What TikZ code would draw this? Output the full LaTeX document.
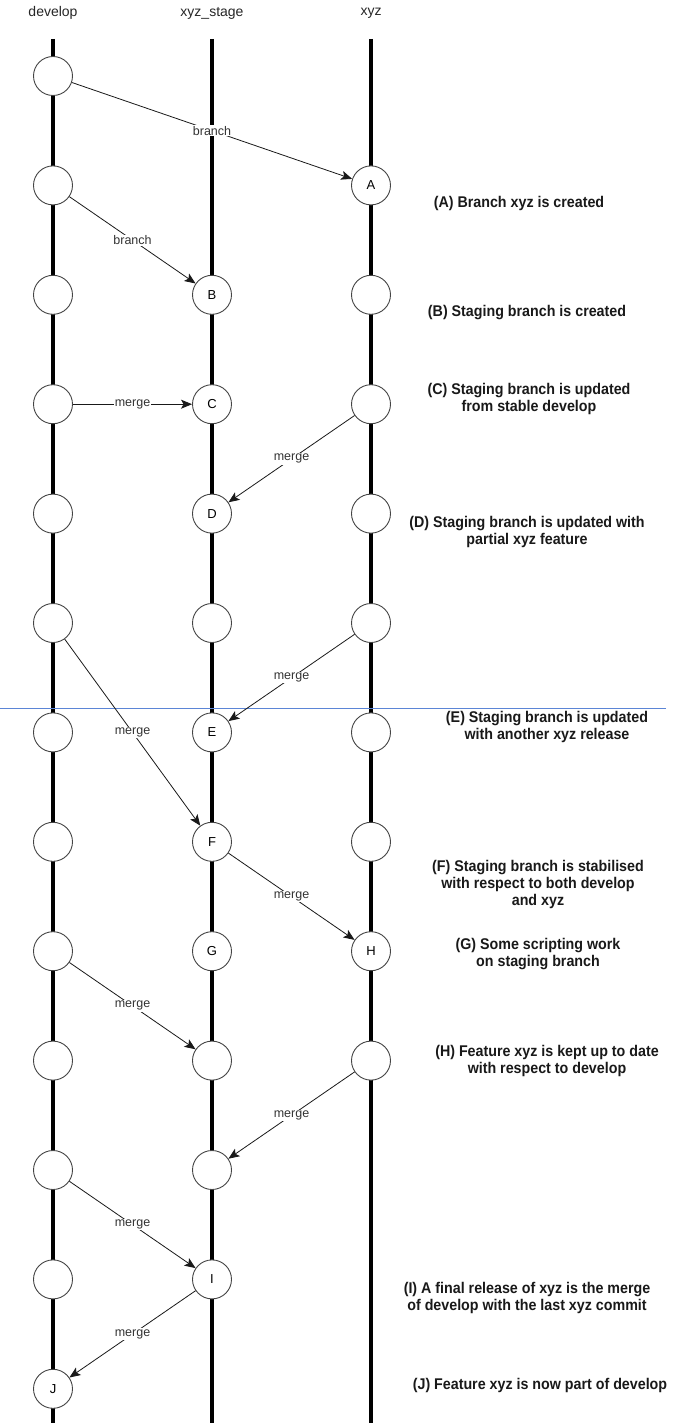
\documentclass[tikz,border=0pt]{standalone}
\usepackage{fontspec}
\setmainfont{Liberation Sans}
\newfontfamily\notefont[FakeStretch=0.92]{Liberation Sans}
\usetikzlibrary{arrows.meta}
\definecolor{rim}{HTML}{444444}
\definecolor{labelgray}{HTML}{333333}
\definecolor{pagebreak}{HTML}{5B85D6}
\begin{document}
\begin{tikzpicture}[x=1pt,y=-1pt,
  commit/.style={circle,draw=rim,line width=0.9pt,fill=white,minimum size=39pt,inner sep=0pt,
    font=\fontsize{13}{15}\selectfont},
  rail/.style={line width=4pt,black},
  flow/.style={line width=0.8pt,draw=black!90,-{Stealth[length=11pt,width=9pt,inset=2.5pt]}},
  tag/.style={midway,fill=white,inner sep=1pt,text=labelgray,font=\fontsize{12.5}{14}\selectfont},
  head/.style={font=\fontsize{14}{16}\selectfont,text=black!85},
  note/.style={align=center,font=\notefont\bfseries\fontsize{15.5}{17}\selectfont,text=black!90}]
\useasboundingbox (0,0) rectangle (679,1423);

% column x positions
\def\cd{53}\def\cs{212}\def\cx{371}

% branch rails
\coordinate (dtop) at (\cd,39); \coordinate (dbot) at (\cd,1423);
\coordinate (stop) at (\cs,39); \coordinate (sbot) at (\cs,1423);
\coordinate (xtop) at (\cx,39); \coordinate (xbot) at (\cx,1423);
\draw[rail] (dtop) -- (dbot);
\draw[rail] (stop) -- (sbot);
\draw[rail] (xtop) -- (xbot);

% page break marker
\coordinate (pbl) at (0,708); \coordinate (pbr) at (666,708);
\draw[pagebreak,line width=0.8pt] (pbl) -- (pbr);

% column headings
\node[head] (hd) at (\cd,13) {develop};
\node[head] (hs) at (\cs,13) {xyz\_stage};
\node[head] (hx) at (\cx,13) {xyz};

% develop commits
\foreach \r in {1,...,12} {
  \node[commit] (d\r) at (\cd,{76+(\r-1)*109.4}) {};
}
\node[commit] (d13) at (\cd,{76+12*109.4}) {J};

% xyz_stage commits
\node[commit] (s3)  at (\cs,{76+2*109.4})  {B};
\node[commit] (s4)  at (\cs,{76+3*109.4})  {C};
\node[commit] (s5)  at (\cs,{76+4*109.4})  {D};
\node[commit] (s6)  at (\cs,{76+5*109.4})  {};
\node[commit] (s7)  at (\cs,{76+6*109.4})  {E};
\node[commit] (s8)  at (\cs,{76+7*109.4})  {F};
\node[commit] (s9)  at (\cs,{76+8*109.4})  {G};
\node[commit] (s10) at (\cs,{76+9*109.4})  {};
\node[commit] (s11) at (\cs,{76+10*109.4}) {};
\node[commit] (s12) at (\cs,{76+11*109.4}) {I};

% xyz commits
\node[commit] (x2)  at (\cx,{76+1*109.4}) {A};
\node[commit] (x3)  at (\cx,{76+2*109.4}) {};
\node[commit] (x4)  at (\cx,{76+3*109.4}) {};
\node[commit] (x5)  at (\cx,{76+4*109.4}) {};
\node[commit] (x6)  at (\cx,{76+5*109.4}) {};
\node[commit] (x7)  at (\cx,{76+6*109.4}) {};
\node[commit] (x8)  at (\cx,{76+7*109.4}) {};
\node[commit] (x9)  at (\cx,{76+8*109.4}) {H};
\node[commit] (x10) at (\cx,{76+9*109.4}) {};

% branch and merge arrows
\draw[flow] (d1) -- (x2) node[tag] {branch};
\draw[flow] (d2) -- (s3) node[tag] {branch};
\draw[flow] (d4) -- (s4) node[tag] {merge};
\draw[flow] (x4) -- (s5) node[tag] {merge};
\draw[flow] (x6) -- (s7) node[tag] {merge};
\draw[flow] (d6) -- (s8) node[tag] {merge};
\draw[flow] (s8) -- (x9) node[tag] {merge};
\draw[flow] (d9) -- (s10) node[tag] {merge};
\draw[flow] (x10) -- (s11) node[tag] {merge};
\draw[flow] (d11) -- (s12) node[tag] {merge};
\draw[flow] (s12) -- (d13) node[tag] {merge};

% step descriptions
\node[note] (nA) at (519,203)  {(A) Branch xyz is created};
\node[note] (nB) at (527,313)  {(B) Staging branch is created};
\node[note] (nC) at (529,399)  {(C) Staging branch is updated\\from stable develop};
\node[note] (nD) at (527,532)  {(D) Staging branch is updated with\\partial xyz feature};
\node[note] (nE) at (547,727)  {(E) Staging branch is updated\\with another xyz release};
\node[note] (nF) at (538,884)  {(F) Staging branch is stabilised\\with respect to both develop\\and xyz};
\node[note] (nG) at (538,954)  {(G) Some scripting work\\on staging branch};
\node[note] (nH) at (547,1061) {(H) Feature xyz is kept up to date\\with respect to develop};
\node[note] (nI) at (527,1298) {(I) A final release of xyz is the merge\\of develop with the last xyz commit};
\node[note] (nJ) at (540,1385) {(J) Feature xyz is now part of develop};
\end{tikzpicture}
\end{document}
